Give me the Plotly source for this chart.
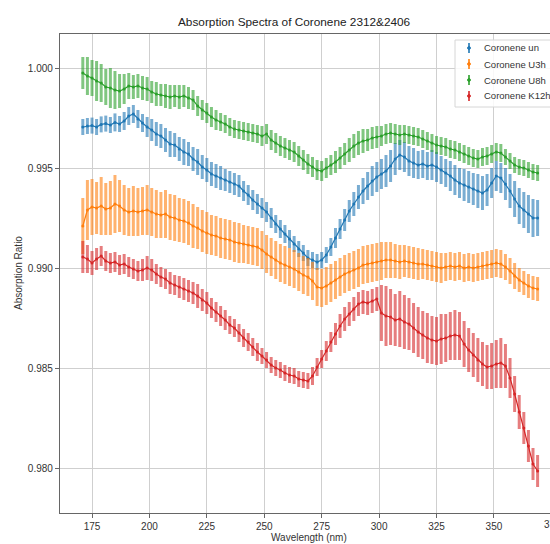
import plotly.graph_objects as go

# Wavelength sampling (nm)
wavelength = list(range(171, 370, 2))

un_ratio = [
    0.99705, 0.99710, 0.99712, 0.99705, 0.99718, 0.99722, 0.99715, 0.99728, 0.99720, 0.99735,
    0.99760, 0.99770, 0.99745, 0.99725, 0.99705, 0.99690, 0.99670, 0.99660, 0.99640, 0.99620,
    0.99615, 0.99595, 0.99580, 0.99570, 0.99545, 0.99530, 0.99505, 0.99490, 0.99470, 0.99460,
    0.99450, 0.99440, 0.99430, 0.99420, 0.99410, 0.99385, 0.99365, 0.99340, 0.99320, 0.99300,
    0.99280, 0.99250, 0.99220, 0.99195, 0.99170, 0.99145, 0.99120, 0.99095, 0.99075, 0.99050,
    0.99040, 0.99030, 0.99040, 0.99065, 0.99105, 0.99150, 0.99195, 0.99240, 0.99285, 0.99320,
    0.99355, 0.99385, 0.99410, 0.99435, 0.99455, 0.99470, 0.99485, 0.99510, 0.99545, 0.99565,
    0.99555, 0.99535, 0.99525, 0.99515, 0.99520, 0.99510, 0.99515, 0.99505, 0.99490, 0.99475,
    0.99460, 0.99440, 0.99425, 0.99415, 0.99405, 0.99395, 0.99385, 0.99375, 0.99390, 0.99425,
    0.99460, 0.99450, 0.99420, 0.99385, 0.99345, 0.99310, 0.99290, 0.99270, 0.99250, 0.99250,
]
un_err = [
    0.00040, 0.00040, 0.00040, 0.00040, 0.00040, 0.00040, 0.00040, 0.00045, 0.00040, 0.00045,
    0.00045, 0.00045, 0.00045, 0.00045, 0.00050, 0.00055, 0.00060, 0.00060, 0.00060, 0.00065,
    0.00060, 0.00060, 0.00065, 0.00060, 0.00060, 0.00065, 0.00060, 0.00060, 0.00060, 0.00060,
    0.00060, 0.00055, 0.00055, 0.00055, 0.00055, 0.00050, 0.00050, 0.00050, 0.00050, 0.00050,
    0.00050, 0.00050, 0.00045, 0.00045, 0.00045, 0.00045, 0.00040, 0.00040, 0.00040, 0.00040,
    0.00040, 0.00040, 0.00040, 0.00040, 0.00045, 0.00050, 0.00050, 0.00055, 0.00055, 0.00060,
    0.00060, 0.00065, 0.00070, 0.00075, 0.00075, 0.00075, 0.00080, 0.00080, 0.00080, 0.00075,
    0.00075, 0.00075, 0.00075, 0.00070, 0.00070, 0.00070, 0.00075, 0.00075, 0.00070, 0.00070,
    0.00075, 0.00075, 0.00075, 0.00080, 0.00080, 0.00080, 0.00085, 0.00085, 0.00080, 0.00075,
    0.00075, 0.00075, 0.00080, 0.00085, 0.00090, 0.00090, 0.00090, 0.00095, 0.00095, 0.00090,
]

u3h_ratio = [
    0.99210, 0.99290, 0.99305, 0.99300, 0.99310, 0.99295, 0.99300, 0.99320, 0.99310, 0.99290,
    0.99280, 0.99285, 0.99280, 0.99285, 0.99290, 0.99280, 0.99270, 0.99265, 0.99270, 0.99255,
    0.99250, 0.99240, 0.99235, 0.99225, 0.99210, 0.99200, 0.99185, 0.99175, 0.99165, 0.99160,
    0.99150, 0.99145, 0.99140, 0.99130, 0.99125, 0.99120, 0.99115, 0.99110, 0.99105, 0.99090,
    0.99070, 0.99055, 0.99040, 0.99025, 0.99015, 0.99005, 0.98995, 0.98980, 0.98965, 0.98955,
    0.98935, 0.98905, 0.98900, 0.98910, 0.98925, 0.98940, 0.98955, 0.98970, 0.98980, 0.98990,
    0.99000, 0.99015, 0.99020, 0.99025, 0.99030, 0.99035, 0.99040, 0.99040, 0.99035, 0.99030,
    0.99035, 0.99030, 0.99025, 0.99020, 0.99020, 0.99015, 0.99010, 0.99005, 0.99000, 0.99005,
    0.99010, 0.99005, 0.99010, 0.99000, 0.99005, 0.99000, 0.99005, 0.99010, 0.99015, 0.99020,
    0.99025, 0.99020, 0.99005, 0.98985, 0.98960, 0.98940, 0.98925, 0.98910, 0.98900, 0.98895,
]
u3h_err = [
    0.00140, 0.00150, 0.00140, 0.00130, 0.00145, 0.00130, 0.00135, 0.00145, 0.00130, 0.00125,
    0.00120, 0.00125, 0.00120, 0.00120, 0.00125, 0.00120, 0.00120, 0.00115, 0.00120, 0.00115,
    0.00115, 0.00110, 0.00110, 0.00110, 0.00110, 0.00105, 0.00105, 0.00105, 0.00100, 0.00100,
    0.00100, 0.00100, 0.00100, 0.00100, 0.00100, 0.00095, 0.00095, 0.00095, 0.00095, 0.00095,
    0.00095, 0.00095, 0.00095, 0.00095, 0.00095, 0.00095, 0.00095, 0.00095, 0.00095, 0.00095,
    0.00095, 0.00095, 0.00095, 0.00095, 0.00095, 0.00095, 0.00095, 0.00095, 0.00095, 0.00095,
    0.00095, 0.00095, 0.00095, 0.00095, 0.00095, 0.00095, 0.00090, 0.00090, 0.00085, 0.00085,
    0.00080, 0.00080, 0.00080, 0.00080, 0.00075, 0.00075, 0.00075, 0.00075, 0.00075, 0.00070,
    0.00070, 0.00070, 0.00070, 0.00070, 0.00070, 0.00070, 0.00070, 0.00070, 0.00070, 0.00070,
    0.00070, 0.00070, 0.00065, 0.00065, 0.00065, 0.00060, 0.00060, 0.00060, 0.00060, 0.00060,
]

u8h_ratio = [
    0.99975, 0.99960, 0.99950, 0.99935, 0.99925, 0.99905, 0.99900, 0.99890, 0.99885, 0.99895,
    0.99910, 0.99905, 0.99910, 0.99900, 0.99895, 0.99880, 0.99870, 0.99865, 0.99860, 0.99855,
    0.99860, 0.99855, 0.99860, 0.99850, 0.99840, 0.99810, 0.99790, 0.99775, 0.99755, 0.99740,
    0.99730, 0.99720, 0.99705, 0.99695, 0.99690, 0.99685, 0.99680, 0.99675, 0.99670, 0.99660,
    0.99670, 0.99640, 0.99625, 0.99610, 0.99600, 0.99590, 0.99580, 0.99560, 0.99540, 0.99520,
    0.99505, 0.99490, 0.99485, 0.99500, 0.99515, 0.99530, 0.99550, 0.99570, 0.99590, 0.99610,
    0.99625, 0.99635, 0.99640, 0.99650, 0.99655, 0.99660, 0.99670, 0.99675, 0.99670, 0.99665,
    0.99670, 0.99665, 0.99660, 0.99655, 0.99645, 0.99635, 0.99625, 0.99615, 0.99610, 0.99605,
    0.99595, 0.99590, 0.99580, 0.99570, 0.99560, 0.99550, 0.99545, 0.99555, 0.99560, 0.99570,
    0.99580, 0.99575, 0.99555, 0.99535, 0.99515, 0.99505, 0.99500, 0.99490, 0.99480, 0.99475,
]
u8h_err = [
    0.00080, 0.00095, 0.00090, 0.00100, 0.00095, 0.00090, 0.00100, 0.00095, 0.00085, 0.00075,
    0.00065, 0.00060, 0.00060, 0.00060, 0.00060, 0.00055, 0.00060, 0.00055, 0.00060, 0.00060,
    0.00055, 0.00060, 0.00055, 0.00055, 0.00050, 0.00050, 0.00050, 0.00050, 0.00050, 0.00050,
    0.00045, 0.00045, 0.00045, 0.00045, 0.00045, 0.00045, 0.00045, 0.00045, 0.00045, 0.00050,
    0.00050, 0.00050, 0.00050, 0.00050, 0.00050, 0.00050, 0.00050, 0.00050, 0.00050, 0.00050,
    0.00050, 0.00050, 0.00050, 0.00050, 0.00050, 0.00055, 0.00055, 0.00055, 0.00060, 0.00060,
    0.00060, 0.00060, 0.00055, 0.00055, 0.00055, 0.00050, 0.00050, 0.00050, 0.00050, 0.00050,
    0.00045, 0.00045, 0.00045, 0.00045, 0.00045, 0.00045, 0.00045, 0.00045, 0.00045, 0.00045,
    0.00045, 0.00045, 0.00045, 0.00045, 0.00045, 0.00045, 0.00045, 0.00045, 0.00045, 0.00045,
    0.00045, 0.00045, 0.00040, 0.00040, 0.00040, 0.00040, 0.00040, 0.00040, 0.00040, 0.00040,
]

k12h_ratio = [
    0.99055, 0.99045, 0.99025, 0.99045, 0.99060, 0.99035, 0.99025, 0.99030, 0.99015, 0.99020,
    0.99005, 0.98995, 0.98985, 0.98990, 0.99000, 0.98990, 0.98970, 0.98955, 0.98945, 0.98925,
    0.98915, 0.98905, 0.98895, 0.98885, 0.98875, 0.98860, 0.98840, 0.98825, 0.98800, 0.98780,
    0.98760, 0.98740, 0.98715, 0.98700, 0.98675, 0.98650, 0.98630, 0.98605, 0.98580, 0.98560,
    0.98540, 0.98515, 0.98500, 0.98490, 0.98475, 0.98465, 0.98460, 0.98445, 0.98440, 0.98435,
    0.98460, 0.98505, 0.98545, 0.98585, 0.98630, 0.98670, 0.98710, 0.98745, 0.98770, 0.98795,
    0.98820, 0.98830, 0.98825, 0.98835, 0.98845, 0.98775, 0.98760, 0.98755, 0.98740, 0.98745,
    0.98730, 0.98720, 0.98700, 0.98680, 0.98665, 0.98650, 0.98640, 0.98635, 0.98645, 0.98650,
    0.98660, 0.98665, 0.98660, 0.98620, 0.98590, 0.98565, 0.98540, 0.98520, 0.98505, 0.98510,
    0.98520, 0.98525, 0.98510, 0.98450, 0.98370, 0.98280, 0.98200, 0.98110, 0.98020, 0.97985,
]
k12h_err = [
    0.00080, 0.00070, 0.00060, 0.00055, 0.00050, 0.00050, 0.00050, 0.00050, 0.00050, 0.00050,
    0.00050, 0.00050, 0.00050, 0.00055, 0.00060, 0.00055, 0.00050, 0.00050, 0.00050, 0.00055,
    0.00050, 0.00055, 0.00055, 0.00055, 0.00055, 0.00060, 0.00055, 0.00055, 0.00050, 0.00050,
    0.00050, 0.00050, 0.00045, 0.00045, 0.00045, 0.00045, 0.00045, 0.00045, 0.00045, 0.00040,
    0.00040, 0.00040, 0.00040, 0.00040, 0.00040, 0.00040, 0.00040, 0.00040, 0.00040, 0.00040,
    0.00045, 0.00045, 0.00045, 0.00050, 0.00050, 0.00055, 0.00060, 0.00060, 0.00060, 0.00060,
    0.00060, 0.00060, 0.00060, 0.00060, 0.00060, 0.00140, 0.00150, 0.00140, 0.00130, 0.00140,
    0.00135, 0.00130, 0.00125, 0.00125, 0.00120, 0.00125, 0.00120, 0.00120, 0.00125, 0.00120,
    0.00120, 0.00125, 0.00120, 0.00115, 0.00110, 0.00110, 0.00110, 0.00110, 0.00110, 0.00115,
    0.00120, 0.00125, 0.00110, 0.00100, 0.00090, 0.00085, 0.00080, 0.00080, 0.00080, 0.00080,
]

series_names = ["Coronene un", "Coronene U3h", "Coronene U8h", "Coronene K12h"]
series_colors = ["#1f77b4", "#ff7f0e", "#2ca02c", "#d62728"]
series_values = [un_ratio, u3h_ratio, u8h_ratio, k12h_ratio]
series_errors = [un_err, u3h_err, u8h_err, k12h_err]

x_ticks = [175, 200, 225, 250, 275, 300, 325, 350]
y_ticks = [0.980, 0.985, 0.990, 0.995, 1.000]

# Page geometry (pixels)
W, H = 550, 544
L, R, T, B = 60, 0, 34, 31
PW, PH = W - L - R, H - T - B


def fx(px):
    return (px - L) / PW


def fy(py):
    return (H - B - py) / PH


def rgba(hex_color, a):
    h = hex_color.lstrip("#")
    r, g, b = int(h[0:2], 16), int(h[2:4], 16), int(h[4:6], 16)
    return f"rgba({r},{g},{b},{a})"


FONT = "Liberation Sans, Arial, sans-serif"

fig = go.Figure()
for name, color, vals, errs in zip(series_names, series_colors, series_values, series_errors):
    fig.add_trace(go.Scatter(
        x=wavelength, y=vals, name=name, mode="lines+markers",
        line=dict(color=color, width=1.2),
        marker=dict(color=color, size=3),
        error_y=dict(type="data", array=errs, visible=True,
                     color=rgba(color, 0.6), thickness=3, width=0),
        showlegend=False,
    ))

fig.update_layout(
    width=W, height=H,
    margin=dict(l=L, r=R, t=T, b=B),
    paper_bgcolor="white", plot_bgcolor="white",
    font=dict(family=FONT, size=9, color="#333333"),
    showlegend=False,
)
fig.update_xaxes(
    range=[161.07, 374.4], tickvals=x_ticks, ticktext=[str(v) for v in x_ticks],
    showgrid=True, gridcolor="#cfcfcf", gridwidth=1,
    showline=True, linecolor="#666666", linewidth=1.2, mirror=True,
    ticks="outside", ticklen=4, tickcolor="#666666", zeroline=False,
    tickfont=dict(family=FONT, size=10, color="#333333"),
)
fig.update_yaxes(
    range=[0.97775, 1.0017], tickvals=y_ticks, ticktext=[f"{v:.3f}" for v in y_ticks],
    showgrid=True, gridcolor="#cfcfcf", gridwidth=1,
    showline=True, linecolor="#666666", linewidth=1.2, mirror=False,
    ticks="outside", ticklen=4, tickcolor="#666666", zeroline=False,
    tickfont=dict(family=FONT, size=10, color="#333333"),
)

ann = []
shapes = []
# Title and axis titles
ann.append(dict(text="Absorption Spectra of Coronene 2312&2406", x=fx(294), y=fy(22),
                xref="paper", yref="paper", showarrow=False, xanchor="center", yanchor="middle",
                font=dict(family=FONT, size=11.8, color="#222222")))
ann.append(dict(text="Absorption Ratio", x=fx(18), y=fy(273), xref="paper", yref="paper",
                showarrow=False, textangle=-90, xanchor="center", yanchor="middle",
                font=dict(family=FONT, size=10, color="#333333")))
ann.append(dict(text="Wavelength (nm)", x=fx(309), y=fy(537), xref="paper", yref="paper",
                showarrow=False, xanchor="center", yanchor="middle",
                font=dict(family=FONT, size=10, color="#333333")))
# 375 tick label sitting on the page edge
ann.append(dict(text="375", x=fx(552), y=fy(524), xref="paper", yref="paper",
                showarrow=False, xanchor="center", yanchor="middle",
                font=dict(family=FONT, size=10, color="#333333")))

# Legend box
shapes.append(dict(type="rect", xref="paper", yref="paper",
                   x0=fx(455), x1=fx(565), y0=fy(107), y1=fy(40),
                   line=dict(color="#d6d6d6", width=1), fillcolor="rgba(255,255,255,0.85)",
                   layer="above"))
legend_rows = [48, 64, 80, 96]
for name, color, py in zip(series_names, series_colors, legend_rows):
    shapes.append(dict(type="line", xref="paper", yref="paper",
                       x0=fx(469), x1=fx(469), y0=fy(py + 5), y1=fy(py - 5),
                       line=dict(color=rgba(color, 0.8), width=2), layer="above"))
    shapes.append(dict(type="circle", xref="paper", yref="paper",
                       x0=fx(467.6), x1=fx(470.4), y0=fy(py + 1.4), y1=fy(py - 1.4),
                       line=dict(color=color, width=1), fillcolor=color, layer="above"))
    ann.append(dict(text=name, x=fx(482), y=fy(py), xref="paper", yref="paper",
                    showarrow=False, xanchor="left", yanchor="middle",
                    font=dict(family=FONT, size=9.5, color="#333333")))

fig.update_layout(annotations=ann, shapes=shapes)
fig.write_html("out.html")
